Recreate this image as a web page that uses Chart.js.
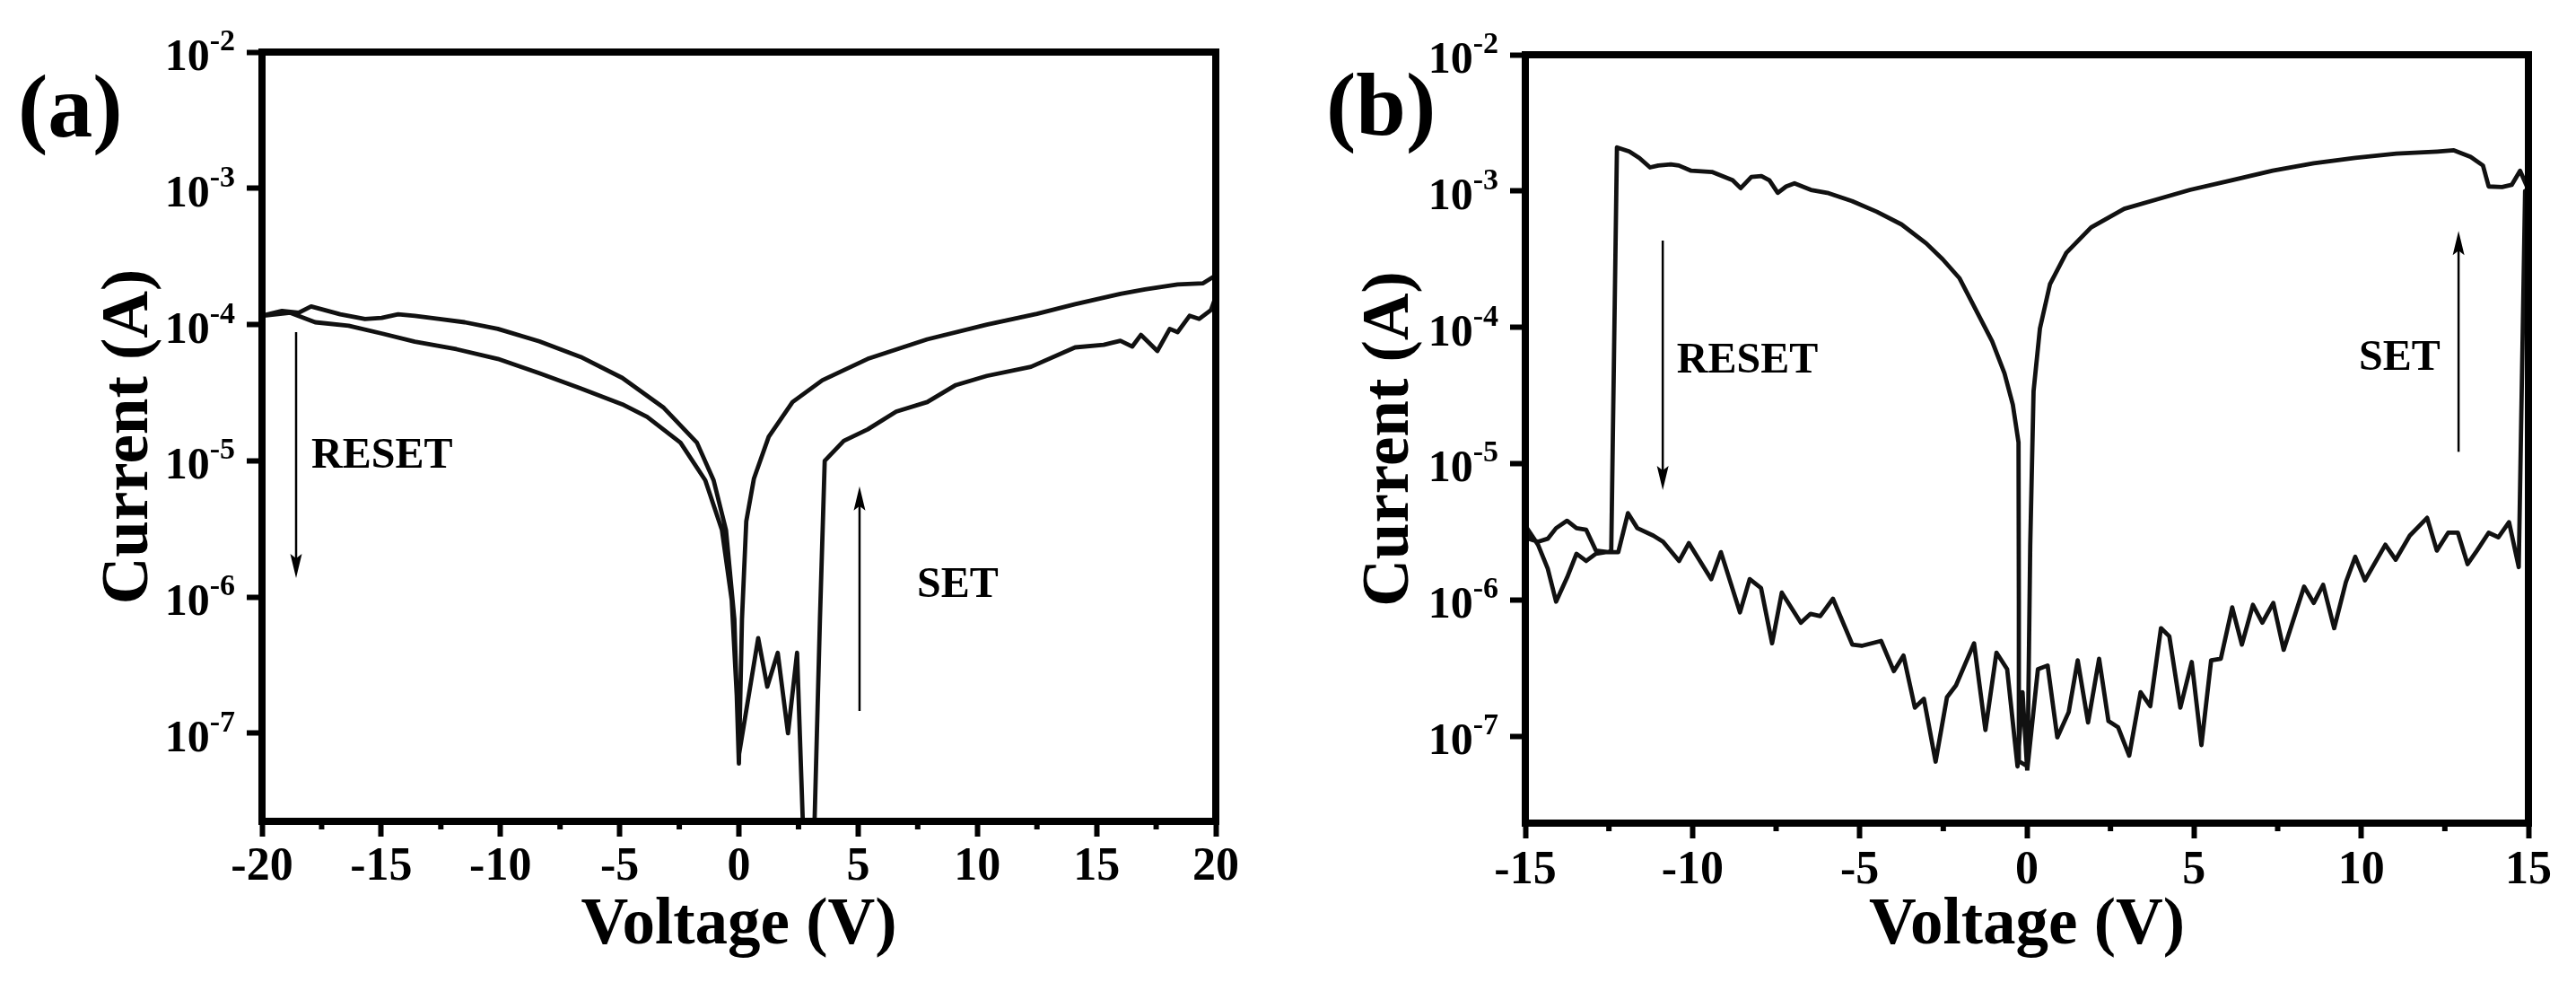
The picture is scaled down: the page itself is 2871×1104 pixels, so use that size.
<!DOCTYPE html>
<html>
<head>
<meta charset="utf-8">
<script src="https://cdn.jsdelivr.net/npm/chart.js@4.4.1/dist/chart.umd.min.js"></script>
<style>
html,body{margin:0;padding:0;background:#fff;}
#wrap{position:relative;width:2871px;height:1104px;background:#fff;}
canvas{position:absolute;top:0;}
</style>
</head>
<body>
<div id="wrap">
<canvas id="chartA" width="1435" height="1104" style="left:0;width:1435px;height:1104px"></canvas>
<canvas id="chartB" width="1436" height="1104" style="left:1435px;width:1436px;height:1104px"></canvas>
</div>
<script>
// ---------- data ----------
// Panel (a): one continuous I-V loop, in sweep order
const voltageA = [0.00, 0.81, 1.19, 1.63, 2.06, 2.44, 2.75, 3.12, 3.40, 3.60, 4.40, 5.40, 6.60, 7.90, 9.10, 10.40, 12.25, 14.10, 15.30, 16.00, 16.50, 16.86, 17.55, 18.07, 18.40, 18.90, 19.30, 19.80, 20.00,
  20.00, 19.47, 18.40, 17.03, 16.00, 14.10, 12.50, 10.40, 7.90, 5.40, 3.50, 2.25, 1.25, 0.63, 0.31, 0.13, 0.00,
  -0.19, -0.54, -1.06, -1.76, -3.15, -4.89, -6.63, -8.37, -10.11, -11.50, -12.55, -13.59, -14.29, -14.98, -15.68, -16.72, -17.24, -17.94, -18.46, -19.16, -20.00,
  -18.81, -17.77, -16.37, -14.98, -13.59, -11.85, -10.11, -8.37, -6.63, -4.89, -3.85, -2.45, -1.41, -0.71, -0.30, -0.09, 0.00];
const currentA = [6.9e-8, 5.0e-7, 2.2e-7, 3.9e-7, 1.0e-7, 3.9e-7, 1.0e-8, 1.0e-8, 6.9e-7, 1.0e-5, 1.4e-5, 1.7e-5, 2.3e-5, 2.7e-5, 3.6e-5, 4.2e-5, 4.9e-5, 6.8e-5, 7.1e-5, 7.6e-5, 6.9e-5, 8.4e-5, 6.4e-5, 9.3e-5, 8.8e-5, 1.16e-4, 1.10e-4, 1.28e-4, 1.60e-4,
  2.30e-4, 2.01e-4, 1.97e-4, 1.81e-4, 1.68e-4, 1.41e-4, 1.20e-4, 1.00e-4, 7.8e-5, 5.6e-5, 3.9e-5, 2.7e-5, 1.5e-5, 7.4e-6, 3.6e-6, 6.9e-7, 6.0e-8,
  6.9e-7, 3.1e-6, 7.2e-6, 1.36e-5, 2.45e-5, 4.06e-5, 5.78e-5, 7.53e-5, 9.3e-5, 1.04e-4, 1.10e-4, 1.16e-4, 1.19e-4, 1.12e-4, 1.10e-4, 1.19e-4, 1.26e-4, 1.36e-4, 1.22e-4, 1.26e-4, 1.16e-4,
  1.22e-4, 1.04e-4, 9.8e-5, 8.6e-5, 7.5e-5, 6.6e-5, 5.6e-5, 4.4e-5, 3.4e-5, 2.6e-5, 2.1e-5, 1.36e-5, 7.2e-6, 3.1e-6, 9.5e-7, 1.9e-7, 6.0e-8];

// Panel (b): one continuous I-V loop, in sweep order
const voltageB = [0.01, 0.33, 0.62, 0.91, 1.25, 1.52, 1.83, 2.16, 2.44, 2.73, 3.06, 3.40, 3.69, 4.01, 4.26, 4.59, 4.93, 5.22, 5.51, 5.80, 6.14, 6.43, 6.76, 7.04, 7.37, 7.68, 8.29, 8.58, 8.86, 9.19, 9.54, 9.82, 10.11, 10.72, 11.03, 11.45, 11.97, 12.26, 12.60, 12.89, 13.18, 13.46, 13.81, 14.10, 14.42, 14.71,
  14.90, 15.00, 14.75, 14.50, 14.21, 13.81, 13.64, 13.27, 12.77, 12.28, 11.05, 9.82, 8.58, 7.35, 6.12, 4.88, 3.90, 2.91, 1.92, 1.18, 0.69, 0.39, 0.20, 0.10, 0.02,
  -0.22, -0.24, -0.25, -0.42, -0.67, -1.04, -1.53, -2.02, -2.52, -3.01, -3.75, -4.49, -5.23, -5.97, -6.46, -6.95, -7.20, -7.45, -7.70, -7.94, -8.24, -8.56, -8.80, -9.42, -10.04, -10.41, -10.65, -11.02, -11.27, -11.59, -11.89, -12.26,
  -12.43, -12.51, -12.89, -13.18, -13.47, -13.75, -14.08, -14.33, -14.62, -14.90, -15.00,
  -14.62, -14.33, -14.08, -13.75, -13.47, -13.18, -12.89, -12.60, -12.22, -11.93, -11.65, -11.17, -10.88, -10.40, -10.11, -9.44, -9.15, -8.58, -8.29, -7.95, -7.62, -7.33, -6.76, -6.47, -6.18, -5.80, -5.22, -4.94, -4.36, -3.98, -3.69, -3.35, -3.08, -2.73, -2.39, -2.12, -1.58, -1.24, -0.91, -0.59, -0.28, -0.13, 0.01];
const currentB = [5.6e-8, 3.1e-7, 3.3e-7, 9.8e-8, 1.5e-7, 3.6e-7, 1.26e-7, 3.7e-7, 1.29e-7, 1.16e-7, 7.2e-8, 2.1e-7, 1.66e-7, 6.2e-7, 5.4e-7, 1.62e-7, 3.5e-7, 8.6e-8, 3.6e-7, 3.7e-7, 8.8e-7, 4.7e-7, 9.2e-7, 6.8e-7, 9.5e-7, 4.3e-7, 1.25e-6, 9.5e-7, 1.29e-6, 6.2e-7, 1.35e-6, 2.07e-6, 1.39e-6, 2.54e-6, 1.97e-6, 2.96e-6, 4.0e-6, 2.30e-6, 3.11e-6, 3.11e-6, 1.83e-6, 2.30e-6, 3.11e-6, 2.88e-6, 3.72e-6, 1.74e-6,
  1.0e-3, 1.02e-3, 1.41e-3, 1.11e-3, 1.07e-3, 1.08e-3, 1.54e-3, 1.78e-3, 1.99e-3, 1.95e-3, 1.88e-3, 1.75e-3, 1.60e-3, 1.41e-3, 1.20e-3, 1.02e-3, 8.7e-4, 7.4e-4, 5.4e-4, 3.52e-4, 2.07e-4, 9.8e-5, 3.4e-5, 2.5e-6, 6.0e-8,
  6.5e-8, 1.0e-6, 1.43e-5, 2.7e-5, 4.6e-5, 7.9e-5, 1.35e-4, 2.30e-4, 3.16e-4, 4.13e-4, 5.69e-4, 7.05e-4, 8.45e-4, 9.7e-4, 1.02e-3, 1.14e-3, 1.08e-3, 9.7e-4, 1.20e-3, 1.29e-3, 1.27e-3, 1.05e-3, 1.20e-3, 1.38e-3, 1.41e-3, 1.54e-3, 1.57e-3, 1.54e-3, 1.49e-3, 1.75e-3, 1.95e-3, 2.09e-3,
  2.3e-6, 2.24e-6, 2.30e-6, 3.27e-6, 3.36e-6, 3.81e-6, 3.36e-6, 2.81e-6, 2.67e-6, 2.81e-6, 3.5e-6,
  2.54e-6, 1.70e-6, 9.7e-7, 1.46e-6, 2.18e-6, 1.93e-6, 2.18e-6, 2.24e-6, 2.24e-6, 4.33e-6, 3.36e-6, 2.96e-6, 2.67e-6, 1.93e-6, 2.61e-6, 1.42e-6, 2.24e-6, 8.1e-7, 1.42e-6, 1.22e-6, 4.8e-7, 1.13e-6, 6.8e-7, 7.9e-7, 7.6e-7, 1.02e-6, 4.7e-7, 4.6e-7, 5.0e-7, 3.0e-7, 3.9e-7, 1.62e-7, 1.88e-7, 6.5e-8, 1.93e-7, 2.36e-7, 4.8e-7, 1.11e-7, 4.1e-7, 3.1e-7, 6.0e-8, 2.1e-7, 5.6e-8];

// tick values / labels
const xTicksA = [-20, -15, -10, -5, 0, 5, 10, 15, 20];
const xTickLabelsA = ['-20', '-15', '-10', '-5', '0', '5', '10', '15', '20'];
const xMinorA = [-17.5, -12.5, -7.5, -2.5, 2.5, 7.5, 12.5, 17.5];
const xTicksB = [-15, -10, -5, 0, 5, 10, 15];
const xTickLabelsB = ['-15', '-10', '-5', '0', '5', '10', '15'];
const xMinorB = [-12.5, -7.5, -2.5, 2.5, 7.5, 12.5];
const yTicks = [1e-7, 1e-6, 1e-5, 1e-4, 1e-3, 1e-2];
const yTickExponents = ['-7', '-6', '-5', '-4', '-3', '-2'];

// annotations (in data coordinates)
const annotA = {
  arrows: [{x: -18.57, from: 8.8e-5, to: 1.38e-6}, {x: 5.06, from: 1.46e-7, to: 6.5e-6}],
  texts: [{t: 'RESET', x: -17.93, y: 8.9e-6}, {t: 'SET', x: 7.47, y: 1.0e-6}]
};
const annotB = {
  arrows: [{x: -10.89, from: 4.33e-4, to: 6.4e-6}, {x: 12.91, from: 1.22e-5, to: 5.1e-4}],
  texts: [{t: 'RESET', x: -10.47, y: 4.66e-5}, {t: 'SET', x: 9.93, y: 4.88e-5}]
};

// ---------- drawing ----------
const FONT = '"Liberation Serif", "Times New Roman", serif';

function decor(cfg) {
  return {
    id: 'decor' + cfg.letter,
    afterDraw(chart) {
      const {ctx, chartArea: ca, scales: {x, y}} = chart;
      ctx.save();
      ctx.strokeStyle = '#000';
      ctx.fillStyle = '#000';
      // frame
      ctx.lineWidth = 8;
      ctx.lineJoin = 'miter';
      ctx.strokeRect(ca.left, ca.top, ca.right - ca.left, ca.bottom - ca.top);
      // minor x ticks
      ctx.lineWidth = 6;
      cfg.minor.forEach(v => {
        const px = x.getPixelForValue(v);
        ctx.beginPath(); ctx.moveTo(px, ca.bottom); ctx.lineTo(px, ca.bottom + 9); ctx.stroke();
      });
      // y tick labels with superscripts
      const right = ca.left - 30;
      ctx.textAlign = 'left';
      ctx.textBaseline = 'alphabetic';
      yTicks.forEach((v, i) => {
        const py = y.getPixelForValue(v);
        const exp = yTickExponents[i];
        ctx.font = 'bold 34px ' + FONT;
        const ws = ctx.measureText(exp).width;
        ctx.font = 'bold 50px ' + FONT;
        const wb = ctx.measureText('10').width;
        ctx.fillText('10', right - ws - wb, py + 20);
        ctx.font = 'bold 34px ' + FONT;
        ctx.fillText(exp, right - ws, py - 2);
      });
      // arrows
      cfg.annot.arrows.forEach(a => {
        const px = x.getPixelForValue(a.x);
        const y0 = y.getPixelForValue(a.from);
        const y1 = y.getPixelForValue(a.to);
        const d = Math.sign(y1 - y0);
        ctx.lineWidth = 2.5;
        ctx.beginPath(); ctx.moveTo(px, y0); ctx.lineTo(px, y1 - d * 18); ctx.stroke();
        ctx.beginPath();
        ctx.moveTo(px, y1);
        ctx.lineTo(px - 6.5, y1 - d * 27);
        ctx.lineTo(px, y1 - d * 22);
        ctx.lineTo(px + 6.5, y1 - d * 27);
        ctx.closePath(); ctx.fill();
      });
      // texts
      ctx.font = 'bold 48px ' + FONT;
      cfg.annot.texts.forEach(t => {
        ctx.fillText(t.t, x.getPixelForValue(t.x), y.getPixelForValue(t.y));
      });
      // panel letter
      ctx.font = 'bold 100px ' + FONT;
      ctx.fillText('(' + cfg.letter + ')', cfg.letterX, cfg.letterY);
      ctx.restore();
    }
  };
}

function makeChart(id, p) {
  const gridOpts = {display: true, drawOnChartArea: false, drawTicks: true, tickLength: 17, tickWidth: 6, tickColor: '#000', color: '#000'};
  const borderOpts = {display: true, width: 8, color: '#000'};
  return new Chart(document.getElementById(id), {
    type: 'scatter',
    data: {
      datasets: [{
        data: p.v.map((v, i) => ({x: v, y: p.i[i]})),
        showLine: true,
        borderColor: '#111',
        backgroundColor: '#111',
        borderWidth: 4.8,
        borderJoinStyle: 'round',
        pointRadius: 0,
        pointHoverRadius: 0,
        tension: 0,
        fill: false
      }]
    },
    options: {
      responsive: false,
      animation: false,
      devicePixelRatio: 1,
      events: [],
      layout: {padding: p.pad},
      plugins: {legend: {display: false}, tooltip: {enabled: false}},
      scales: {
        x: {
          type: 'linear', min: p.xmin, max: p.xmax,
          afterBuildTicks: s => { s.ticks = p.xTicks.map(v => ({value: v})); },
          afterFit: s => { s.height = p.xH; },
          ticks: {
            color: '#000', padding: p.xTickPad, maxRotation: 0, autoSkip: false,
            font: {family: FONT, weight: 'bold', size: 52},
            callback: (v, i) => p.xLabels[i]
          },
          grid: gridOpts, border: borderOpts,
          title: {display: true, text: 'Voltage (V)', color: '#000',
            font: {family: FONT, weight: 'bold', size: 73, lineHeight: 1},
            padding: {top: 0, bottom: 35}}
        },
        y: {
          type: 'logarithmic', min: p.ymin, max: 1e-2,
          afterBuildTicks: s => { s.ticks = yTicks.map(v => ({value: v})); },
          afterFit: s => { s.width = p.yW; },
          ticks: {display: false},
          grid: gridOpts, border: borderOpts,
          title: {display: true, text: 'Current (A)', color: '#000',
            font: {family: FONT, weight: 'bold', size: 73, lineHeight: 1},
            padding: {top: p.yTitlePad, bottom: 0}}
        }
      }
    },
    plugins: [decor(p)]
  });
}

makeChart('chartA', {
  v: voltageA, i: currentA, xmin: -20, xmax: 20, ymin: 2.26e-8,
  xTicks: xTicksA, xLabels: xTickLabelsA, minor: xMinorA,
  pad: {left: 0, top: 58, right: 80, bottom: 0}, yW: 292, xH: 189,
  xTickPad: 3, yTitlePad: 109,
  annot: annotA, letter: 'a', letterX: 20, letterY: 152
});
makeChart('chartB', {
  v: voltageB, i: currentB, xmin: -15, xmax: 15, ymin: 2.3e-8,
  xTicks: xTicksB, xLabels: xTickLabelsB, minor: xMinorB,
  pad: {left: 0, top: 61, right: 53, bottom: 0}, yW: 265, xH: 187,
  xTickPad: 5, yTitlePad: 79,
  annot: annotB, letter: 'b', letterX: 43, letterY: 150
});
</script>
</body>
</html>
